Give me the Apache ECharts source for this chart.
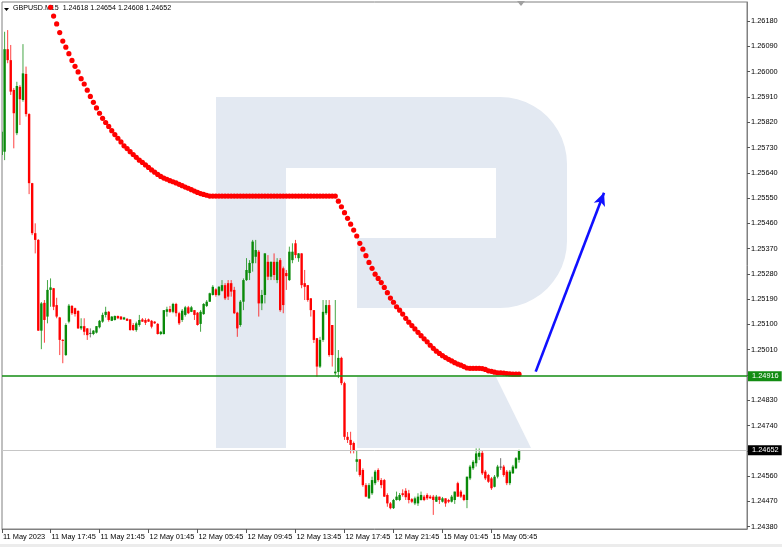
<!DOCTYPE html>
<html><head><meta charset="utf-8">
<script src="https://cdn.jsdelivr.net/npm/echarts@6/dist/echarts.min.js"></script>
<style>html,body{margin:0;padding:0;background:#fff}#c{width:782px;height:547px}</style>
</head><body><div id="c"></div>
<script>
// ---------------- data ----------------
const symbolName = 'GBPUSD.M15';
const lastBar = ['1.24618', '1.24654', '1.24608', '1.24652']; // O H L C of the last bar

const opens = [
1.25703,1.25715,1.26080,1.26041,1.25935,1.25781,1.25946,1.25899,1.25992,1.25849,
1.25603,1.25425,1.25401,1.25078,1.25177,1.25128,1.25223,1.25229,1.25169,1.25125,
1.25045,1.24991,1.25110,1.25166,1.25158,1.25148,1.25086,1.25094,1.25086,1.25070,
1.25066,1.25071,1.25090,1.25110,1.25134,1.25145,1.25113,1.25116,1.25130,1.25128,
1.25118,1.25120,1.25118,1.25098,1.25080,1.25098,1.25118,1.25116,1.25118,1.25113,
1.25110,1.25102,1.25066,1.25066,1.25145,1.25155,1.25145,1.25173,1.25140,1.25116,
1.25134,1.25161,1.25145,1.25151,1.25142,1.25102,1.25137,1.25166,1.25181,1.25205,
1.25225,1.25205,1.25220,1.25240,1.25247,1.25247,1.25223,1.25142,1.25098,1.25181,
1.25258,1.25283,1.25318,1.25341,1.25359,1.25175,1.25205,1.25323,1.25270,1.25323,
1.25258,1.25329,1.25300,1.25283,1.25258,1.25329,1.25389,1.25336,1.25353,1.25247,
1.25240,1.25193,1.25151,1.25051,1.24950,1.25045,1.25140,1.25169,1.25098,1.24926,
1.24931,1.24981,1.24891,1.24700,1.24689,1.24678,1.24611,1.24620,1.24582,1.24528,
1.24481,1.24499,1.24535,1.24582,1.24546,1.24546,1.24493,1.24463,1.24446,1.24475,
1.24475,1.24499,1.24508,1.24499,1.24478,1.24463,1.24463,1.24475,1.24487,1.24493,
1.24487,1.24487,1.24469,1.24487,1.24469,1.24481,1.24475,1.24469,1.24475,1.24535,
1.24505,1.24493,1.24475,1.24552,1.24588,1.24606,1.24629,1.24643,1.24576,1.24564,
1.24552,1.24522,1.24558,1.24594,1.24594,1.24576,1.24535,1.24570,1.24588,1.24618];

const closes = [
1.25786,1.26080,1.26041,1.25929,1.25852,1.25949,1.25902,1.25994,1.25849,1.25603,
1.25425,1.25401,1.25078,1.25175,1.25116,1.25223,1.25232,1.25163,1.25128,1.25045,
1.25042,1.25098,1.25167,1.25140,1.25137,1.25086,1.25094,1.25074,1.25062,1.25070,
1.25078,1.25094,1.25113,1.25134,1.25145,1.25116,1.25128,1.25130,1.25122,1.25118,
1.25125,1.25113,1.25080,1.25080,1.25104,1.25116,1.25110,1.25106,1.25110,1.25092,
1.25104,1.25066,1.25074,1.25151,1.25154,1.25145,1.25173,1.25140,1.25104,1.25149,
1.25161,1.25140,1.25161,1.25134,1.25098,1.25145,1.25173,1.25181,1.25211,1.25234,
1.25205,1.25234,1.25240,1.25193,1.25199,1.25217,1.25140,1.25086,1.25181,1.25258,
1.25294,1.25319,1.25395,1.25365,1.25175,1.25205,1.25353,1.25270,1.25323,1.25276,
1.25323,1.25151,1.25169,1.25272,1.25359,1.25359,1.25347,1.25353,1.25240,1.25234,
1.25187,1.25151,1.25045,1.24950,1.25045,1.25145,1.25169,1.24991,1.24991,1.24932,
1.24981,1.24891,1.24700,1.24689,1.24671,1.24653,1.24620,1.24564,1.24528,1.24487,
1.24528,1.24546,1.24576,1.24546,1.24528,1.24487,1.24463,1.24446,1.24475,1.24487,
1.24493,1.24493,1.24485,1.24475,1.24469,1.24481,1.24487,1.24493,1.24475,1.24481,
1.24481,1.24475,1.24487,1.24475,1.24481,1.24463,1.24469,1.24487,1.24505,1.24487,
1.24487,1.24475,1.24558,1.24594,1.24611,1.24641,1.24643,1.24570,1.24552,1.24540,
1.24517,1.24558,1.24594,1.24594,1.24564,1.24535,1.24576,1.24594,1.24624,1.24652];

const lows = [
1.25696,1.25685,1.26030,1.25917,1.25727,1.25774,1.25810,1.25893,1.25840,1.25564,
1.25418,1.25353,1.25077,1.25012,1.25035,1.25104,1.25163,1.25151,1.25122,1.24991,
1.24962,1.24988,1.25104,1.25134,1.25128,1.25084,1.25080,1.25062,1.25045,1.25054,
1.25062,1.25068,1.25086,1.25106,1.25125,1.25110,1.25112,1.25114,1.25119,1.25116,
1.25116,1.25112,1.25078,1.25077,1.25074,1.25092,1.25109,1.25098,1.25109,1.25086,
1.25102,1.25064,1.25062,1.25064,1.25128,1.25141,1.25140,1.25128,1.25098,1.25109,
1.25128,1.25137,1.25144,1.25116,1.25096,1.25074,1.25134,1.25162,1.25180,1.25203,
1.25199,1.25201,1.25217,1.25187,1.25187,1.25199,1.25137,1.25056,1.25092,1.25151,
1.25255,1.25258,1.25288,1.25318,1.25128,1.25151,1.25175,1.25258,1.25258,1.25258,
1.25247,1.25145,1.25140,1.25223,1.25255,1.25318,1.25336,1.25323,1.25229,1.25187,
1.25181,1.25128,1.25034,1.24914,1.24945,1.25038,1.25134,1.24985,1.24950,1.24919,
1.24909,1.24884,1.24689,1.24678,1.24641,1.24641,1.24576,1.24558,1.24522,1.24485,
1.24479,1.24493,1.24528,1.24540,1.24517,1.24486,1.24451,1.24442,1.24443,1.24473,
1.24471,1.24487,1.24475,1.24463,1.24464,1.24457,1.24454,1.24473,1.24471,1.24475,
1.24479,1.24422,1.24468,1.24461,1.24466,1.24451,1.24464,1.24466,1.24461,1.24486,
1.24482,1.24471,1.24446,1.24546,1.24582,1.24594,1.24617,1.24564,1.24546,1.24536,
1.24511,1.24520,1.24552,1.24582,1.24558,1.24528,1.24528,1.24568,1.24585,1.24608];

const highs = [
1.25792,1.26142,1.26148,1.26095,1.25942,1.25964,1.25952,1.26098,1.26018,1.25852,
1.25604,1.25460,1.25404,1.25180,1.25187,1.25258,1.25264,1.25230,1.25195,1.25127,
1.25048,1.25104,1.25173,1.25169,1.25160,1.25151,1.25122,1.25122,1.25087,1.25086,
1.25080,1.25094,1.25116,1.25142,1.25163,1.25148,1.25130,1.25132,1.25132,1.25130,
1.25127,1.25123,1.25119,1.25105,1.25110,1.25134,1.25123,1.25122,1.25121,1.25116,
1.25112,1.25105,1.25077,1.25151,1.25163,1.25166,1.25177,1.25177,1.25145,1.25155,
1.25166,1.25166,1.25166,1.25151,1.25144,1.25151,1.25176,1.25187,1.25213,1.25240,
1.25229,1.25237,1.25258,1.25247,1.25258,1.25258,1.25234,1.25145,1.25187,1.25264,
1.25336,1.25329,1.25401,1.25401,1.25365,1.25223,1.25354,1.25347,1.25324,1.25353,
1.25336,1.25336,1.25306,1.25294,1.25377,1.25389,1.25401,1.25354,1.25354,1.25294,
1.25240,1.25194,1.25151,1.25052,1.25056,1.25187,1.25187,1.25187,1.25098,1.25187,
1.25009,1.24985,1.24896,1.24717,1.24718,1.24683,1.24653,1.24620,1.24588,1.24535,
1.24535,1.24558,1.24582,1.24588,1.24553,1.24550,1.24499,1.24468,1.24479,1.24505,
1.24500,1.24513,1.24517,1.24511,1.24482,1.24487,1.24499,1.24505,1.24493,1.24499,
1.24493,1.24493,1.24493,1.24487,1.24486,1.24481,1.24479,1.24493,1.24505,1.24540,
1.24511,1.24496,1.24558,1.24600,1.24617,1.24659,1.24659,1.24651,1.24582,1.24568,
1.24557,1.24564,1.24600,1.24624,1.24600,1.24582,1.24582,1.24600,1.24628,1.24654];

// red dotted indicator line, one dot per bar (null = not drawn)
const maLine = [
null,null,null,null,null,null,null,null,null,null,
null,null,null,null,null,null,1.26229,1.26198,1.26170,1.26139,
1.26109,1.26087,1.26064,1.26040,1.26019,1.25999,1.25975,1.25956,1.25934,1.25912,
1.25891,1.25871,1.25852,1.25834,1.25819,1.25805,1.25790,1.25776,1.25763,1.25750,
1.25736,1.25726,1.25715,1.25705,1.25695,1.25685,1.25677,1.25668,1.25659,1.25650,
1.25642,1.25634,1.25627,1.25621,1.25617,1.25612,1.25608,1.25604,1.25599,1.25594,
1.25589,1.25585,1.25580,1.25575,1.25570,1.25566,1.25563,1.25560,1.25557,1.25557,
1.25557,1.25557,1.25557,1.25557,1.25557,1.25557,1.25557,1.25557,1.25557,1.25557,
1.25557,1.25557,1.25557,1.25557,1.25557,1.25557,1.25557,1.25557,1.25557,1.25557,
1.25557,1.25557,1.25557,1.25557,1.25557,1.25557,1.25557,1.25557,1.25557,1.25557,
1.25557,1.25557,1.25557,1.25557,1.25557,1.25557,1.25557,1.25557,1.25557,1.25557,
1.25539,1.25519,1.25498,1.25478,1.25457,1.25436,1.25415,1.25389,1.25368,1.25345,
1.25321,1.25300,1.25279,1.25264,1.25249,1.25232,1.25213,1.25194,1.25179,1.25163,
1.25151,1.25137,1.25122,1.25108,1.25096,1.25084,1.25072,1.25060,1.25049,1.25038,
1.25026,1.25015,1.25005,1.24997,1.24989,1.24982,1.24976,1.24970,1.24964,1.24959,
1.24955,1.24950,1.24945,1.24944,1.24944,1.24944,1.24944,1.24943,1.24940,1.24935,
1.24933,1.24930,1.24928,1.24928,1.24927,1.24925,1.24924,1.24923,1.24923,1.24923];

const xTickBars = [0.15, 16, 32, 48, 64, 80, 96, 112, 128, 144, 160];
const xTickLabels = ['11 May 2023', '11 May 17:45', '11 May 21:45', '12 May 01:45', '12 May 05:45',
  '12 May 09:45', '12 May 13:45', '12 May 17:45', '12 May 21:45', '15 May 01:45', '15 May 05:45'];
const yTickValues = [1.24380, 1.24470, 1.24560, 1.24650, 1.24740, 1.24830, 1.24920, 1.25010, 1.25100,
  1.25190, 1.25280, 1.25370, 1.25460, 1.25550, 1.25640, 1.25730, 1.25820, 1.25910, 1.26000, 1.26090, 1.26180];
const yLabelValues = [1.24380, 1.24470, 1.24560, 1.24740, 1.24830, 1.25010, 1.25100,
  1.25190, 1.25280, 1.25370, 1.25460, 1.25550, 1.25640, 1.25730, 1.25820, 1.25910, 1.26000, 1.26090, 1.26180];

const supportLevel = 1.24916;   // green horizontal line
const bidLevel = 1.24652;       // grey bid line
const arrowFrom = [174.45, 1.24932];
const arrowTo = [196.75, 1.25569];

// ---------------- chart ----------------
const FONT = 'Liberation Sans, Arial, sans-serif';
const FS = 7.4;
const UP = '#0a8a0a', DOWN = '#ff0000', DOJI = '#444444';

const candleData = opens.map((o, i) => [i, o, closes[i], lows[i], highs[i]]);
const dotData = [];
maLine.forEach((v, i) => { if (v !== null) dotData.push([i, v]); });

function renderCandle(params, api) {
  const x = api.value(0), o = api.value(1), c = api.value(2), l = api.value(3), h = api.value(4);
  const po = api.coord([x, o]), pc = api.coord([x, c]);
  const pl = api.coord([x, l]), ph = api.coord([x, h]);
  const color = c > o ? UP : (c < o ? DOWN : DOJI);
  const cx = po[0];
  const top = Math.min(po[1], pc[1]);
  const hgt = Math.max(Math.abs(po[1] - pc[1]), 1);
  return {
    type: 'group',
    children: [
      { type: 'line', shape: { x1: cx, y1: ph[1], x2: cx, y2: pl[1] }, style: { stroke: color, lineWidth: 1, opacity: 0.75 } },
      { type: 'rect', shape: { x: cx - 1.2, y: top, width: 2.4, height: hgt }, style: { fill: color } }
    ]
  };
}

// watermark "R" outline (decoration, pixel space)
function arcPts(cx, cy, r, a0, a1, n) {
  const pts = [];
  for (let k = 0; k <= n; k++) {
    const a = (a0 + (a1 - a0) * k / n) * Math.PI / 180;
    pts.push([cx + r * Math.cos(a), cy + r * Math.sin(a)]);
  }
  return pts;
}
const bowl = [[286, 97]].concat(arcPts(500, 164, 67, -90, 0, 12), arcPts(500, 241, 67, 0, 90, 12),
  [[357, 308], [357, 238], [496, 238], [496, 168], [286, 168]]);

const WM = '#e3e9f2';
const chart = echarts.init(document.getElementById('c'), null, { renderer: 'canvas' });
chart.setOption({
  animation: false,
  backgroundColor: '#ffffff',
  title: {
    text: symbolName + '  ' + lastBar.join(' '),
    left: 13, top: 5, padding: 0, z: 1,
    textStyle: { fontSize: 7.1, fontWeight: 'normal', color: '#000', fontFamily: FONT }
  },
  graphic: [
    { type: 'rect', z: 0, silent: true, shape: { x: 216, y: 97, width: 70, height: 351 }, style: { fill: WM } },
    { type: 'polygon', z: 0, silent: true, shape: { points: bowl }, style: { fill: WM } },
    { type: 'polygon', z: 0, silent: true, shape: { points: [[357, 377], [496, 377], [531, 448], [357, 448]] }, style: { fill: WM } },
    { type: 'polygon', z: 10, silent: true, shape: { points: [[4, 8], [9, 8], [6.5, 11]] }, style: { fill: '#000' } },
    { type: 'polygon', z: 10, silent: true, shape: { points: [[517, 1], [525, 1], [521, 6]] }, style: { fill: '#a0a0a0' } },
    { type: 'rect', z: 0, silent: true, shape: { x: 0, y: 544, width: 782, height: 3 }, style: { fill: '#ececec' } }
  ],
  grid: { left: 2, right: 35, top: 2, bottom: 18, show: true, borderColor: '#808080', borderWidth: 1, backgroundColor: 'transparent' },
  xAxis: {
    type: 'value', min: 0.15, max: 243.45,
    splitLine: { show: false },
    axisLine: { show: true, lineStyle: { color: '#808080' } },
    axisTick: { show: true, length: 4, customValues: xTickBars, lineStyle: { color: '#555' } },
    axisLabel: {
      customValues: xTickBars, align: 'left', margin: 4, padding: [0, 0, 0, 1],
      fontSize: FS, color: '#000', fontFamily: FONT,
      formatter: v => xTickLabels[Math.round(v / 16)]
    }
  },
  yAxis: {
    type: 'value', position: 'right', min: 1.243718, max: 1.26248, scale: true,
    splitLine: { show: false },
    axisLine: { show: true, lineStyle: { color: '#808080' } },
    axisTick: { show: true, length: 3, customValues: yTickValues, lineStyle: { color: '#555' } },
    axisLabel: {
      customValues: yLabelValues, margin: 4, fontSize: FS, color: '#000', fontFamily: FONT,
      formatter: v => v.toFixed(5)
    }
  },
  series: [
    {
      type: 'custom', name: 'candles', renderItem: renderCandle, clip: true, z: 2,
      encode: { x: 0, y: [1, 2, 3, 4] }, data: candleData
    },
    {
      type: 'scatter', name: 'indicator', data: dotData, symbol: 'circle', symbolSize: 5.2, z: 4,
      itemStyle: { color: '#ff0000', opacity: 1 }, clip: true,
      markLine: {
        silent: true, animation: false, symbol: ['none', 'none'], precision: 5,
        data: [
          { yAxis: supportLevel, lineStyle: { color: '#128c12', width: 1.7, type: 'solid' },
            label: { show: true, position: 'end', formatter: supportLevel.toFixed(5), color: '#fff',
              backgroundColor: '#128c12', padding: [2, 3, 1, 4], distance: 1, fontSize: FS, fontFamily: FONT } },
          { yAxis: bidLevel, lineStyle: { color: '#c6c6c6', width: 1, type: 'solid' },
            label: { show: true, position: 'end', formatter: bidLevel.toFixed(5), color: '#fff',
              backgroundColor: '#000', padding: [2, 3, 1, 4], distance: 1, fontSize: FS, fontFamily: FONT } },
          [
            { coord: arrowFrom, symbol: 'none', lineStyle: { color: '#1010ff', width: 2.6, type: 'solid' }, label: { show: false } },
            { coord: arrowTo, symbol: 'arrow', symbolSize: [9, 13], lineStyle: { color: '#1010ff', width: 2.6, type: 'solid' }, label: { show: false } }
          ]
        ]
      }
    }
  ]
});
</script>
</body></html>
